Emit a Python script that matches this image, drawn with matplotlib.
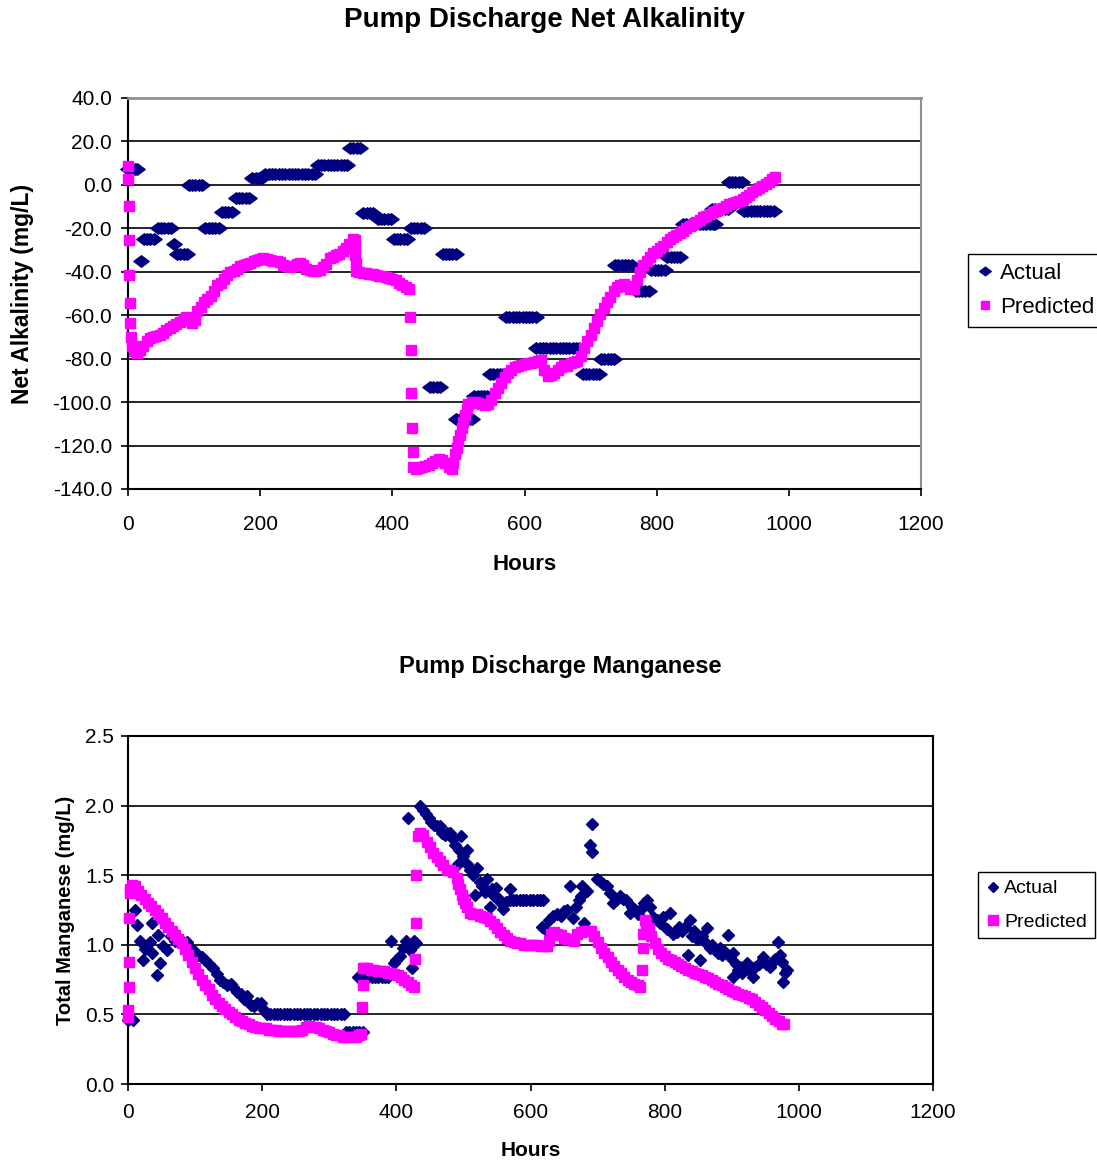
import matplotlib
matplotlib.use("Agg")
import matplotlib.pyplot as plt
from matplotlib.path import Path

plt.rcParams['font.family'] = ['Liberation Sans', 'DejaVu Sans']
plt.rcParams['axes.unicode_minus'] = False

# ---------------- Net Alkalinity: Actual ----------------
alk_act_hours = [
    0, 5, 10, 14,
    19,
    24, 29, 34, 39,
    45, 50, 55, 60, 65,
    69,
    74, 79, 84, 89,
    92, 97, 102, 107, 112,
    117, 122, 127, 132, 137,
    142, 147, 152, 157,
    163, 168, 173, 178, 183,
    188, 193, 198, 203,
    208, 213, 218, 223, 228, 233, 238, 243, 248, 253, 258, 263, 268, 273, 278, 283,
    287, 292, 297, 302, 307, 312, 317, 322, 327, 332,
    336, 341, 346, 351,
    356, 361, 366, 371,
    378, 383, 388, 393, 398,
    402, 407, 412, 417, 422,
    428, 433, 438, 443, 448,
    457, 462, 467, 472,
    476, 481, 486, 491, 496,
    497, 502, 507, 512, 517, 521,
    524, 529, 534, 539, 544,
    548, 553, 558, 563, 568,
    572, 577, 582, 587, 592, 597, 602, 607, 612, 617,
    618, 623, 628, 633, 638, 643, 648, 653, 658, 663, 668, 673, 678, 683,
    688, 693, 698, 703, 708, 713,
    716, 721, 726, 731, 736,
    737, 742, 747, 752, 757, 762,
    768, 773, 778, 783, 788,
    792, 797, 802, 807, 812,
    816, 821, 826, 831, 836,
    840, 845, 850, 855, 860, 865, 870, 875, 880, 885, 889,
    884, 889, 894, 899, 904, 908,
    909, 914, 919, 924, 929,
    932, 937, 942, 947, 952, 957, 962, 967, 972, 977,
]
alk_act_values = [
    7.5, 7.5, 7.5, 7.5,
    -35,
    -25, -25, -25, -25,
    -20, -20, -20, -20, -20,
    -27,
    -32, -32, -32, -32,
    0, 0, 0, 0, 0,
    -20, -20, -20, -20, -20,
    -12.5, -12.5, -12.5, -12.5,
    -6, -6, -6, -6, -6,
    3, 3, 3, 3,
    5, 5, 5, 5, 5, 5, 5, 5, 5, 5, 5, 5, 5, 5, 5, 5,
    9, 9, 9, 9, 9, 9, 9, 9, 9, 9,
    17, 17, 17, 17,
    -13, -13, -13, -13,
    -15.5, -15.5, -15.5, -15.5, -15.5,
    -25, -25, -25, -25, -25,
    -20, -20, -20, -20, -20,
    -93, -93, -93, -93,
    -32, -32, -32, -32, -32,
    -108, -108, -108, -108, -108, -108,
    -97, -97, -97, -97, -97,
    -87, -87, -87, -87, -87,
    -61, -61, -61, -61, -61, -61, -61, -61, -61, -61,
    -75, -75, -75, -75, -75, -75, -75, -75, -75, -75, -75, -75, -75, -75,
    -87, -87, -87, -87, -87, -87,
    -80, -80, -80, -80, -80,
    -37, -37, -37, -37, -37, -37,
    -49, -49, -49, -49, -49,
    -39, -39, -39, -39, -39,
    -33, -33, -33, -33, -33,
    -18, -18, -18, -18, -18, -18, -18, -18, -18, -18, -18,
    -11, -11, -11, -11, -11, -11,
    1.5, 1.5, 1.5, 1.5, 1.5,
    -12, -12, -12, -12, -12, -12, -12, -12, -12, -12,
]

# ---------------- Net Alkalinity: Predicted ----------------
alk_pred_hours = [
    0, 0.5, 1, 1.5, 2, 2.5, 3,
    4, 6, 9, 13, 18, 23, 28, 33, 38, 43, 48, 53, 58, 63, 68, 73, 78, 83, 88, 93, 97,
    101, 105, 110, 115, 120, 125, 130, 135, 140, 145, 150, 155, 160, 165, 170, 175,
    180, 185, 190, 195, 200, 205, 210, 215, 220, 225, 230, 235, 240, 245, 250, 255,
    260, 265, 270, 275, 280, 285, 290, 295, 300, 305, 310, 315, 320, 325, 330, 335,
    340, 343, 343.5, 344, 344.5, 345, 350, 355, 360, 365, 370, 375, 380, 385, 390,
    395, 400, 405, 410, 415, 420, 425,
    427, 428, 429, 430, 431, 432,
    436, 440, 445, 450, 455, 460, 465, 470, 475, 480, 485, 490, 492.5, 495, 497.5, 500,
    502.5, 505, 507.5, 510, 512.5, 515, 520, 525, 530, 535, 540, 545, 550, 555, 560,
    565, 570, 575, 580, 585, 590, 595, 600, 605, 610, 615, 620, 625, 630, 635, 640,
    645, 650, 655, 660, 665, 670, 675, 680, 685, 690, 695, 700, 705, 710, 715, 720,
    725, 730, 735, 740, 745, 750, 755, 760, 765, 770, 775, 780, 785, 790, 795, 800,
    805, 810, 815, 820, 825, 830, 835, 840, 845, 850, 855, 860, 865, 870, 875, 880,
    885, 890, 895, 900, 905, 910, 915, 920, 925, 930, 935, 940, 945, 950, 955, 960,
    965, 970, 975, 979,
]
alk_pred_values = [
    8.5, 2.5, -9.5, -25.5, -41.5, -54.5, -63.5,
    -70, -74, -76.5, -77.5, -76, -74, -72, -70.5, -70, -69.5, -69, -68, -67, -66, -65, -64, -63, -62, -61, -62, -63.5,
    -62, -58, -56, -54, -52.5, -51, -49, -46, -45, -43.5, -41.5, -40, -39.5, -38.5, -37.5, -37,
    -36.5, -36, -35, -34.5, -34, -33.5, -34, -34.5, -35, -35, -35.5, -37, -37.5, -38, -37.5, -36.5,
    -36, -37, -38.5, -39, -39.5, -39.5, -39, -38, -36.5, -33.5, -33, -32.5, -32, -30.5, -29, -27,
    -25, -25.5, -29, -32.5, -36, -39.5, -40, -40.5, -40.5, -41, -41, -41.5, -42, -42, -42.5,
    -43, -43.5, -44, -45, -46, -47, -48,
    -61, -76, -96, -112, -123, -130,
    -131, -130.5, -130, -129.5, -129, -128, -127, -126, -126.5, -128, -130, -131, -128, -124, -121, -118,
    -115, -112, -109, -106, -103, -101, -100, -100, -100.5, -101, -101.5, -101, -99, -96, -93.5,
    -91, -88.5, -86.5, -85, -84, -83.5, -83, -82.5, -82, -82, -81.5, -81, -80.5, -85, -88, -87.5,
    -86.5, -85, -84, -83, -83.5, -82, -81.5, -81, -79, -75, -72, -69, -66, -62.5, -59.5, -56.5,
    -54, -51.5, -49, -47, -46, -45.5, -46.5, -48, -48, -44, -40, -37, -35, -33, -31.5, -30.5,
    -29, -28, -26.5, -25, -24, -23, -22, -21, -20, -19, -18, -17, -16, -15, -14.5, -13.5,
    -12.5, -12, -11, -10.5, -9.5, -9, -8.5, -8, -7.5, -6.5, -5.5, -4.5, -3.5, -2.5, -1.5, -0.5,
    0.5, 1.5, 2.5, 3.5,
]

# ---------------- Manganese: Actual ----------------
mn_act_hours = [
    0, 7, 10, 13, 18, 23, 25, 33, 36, 36, 43, 45, 48, 52, 58, 64,
    70, 75, 82, 88, 95, 100, 105, 110, 115, 120, 127, 132, 137, 142, 148, 153, 157,
    163, 168, 173, 177, 183, 188, 192, 198, 203,
    207, 212, 217, 222, 227, 232, 237, 242, 247, 252, 257, 262, 267, 272, 277, 282,
    287, 292, 297, 302, 307, 312, 317, 322,
    325, 330, 335, 340, 345, 350,
    343, 348, 353, 358, 363, 368, 373, 378, 383, 388,
    392, 397, 400, 405, 410, 414, 418, 420, 424, 427, 430,
    436, 440, 444, 448, 452, 456, 460, 465, 468, 472, 476, 480, 484, 488, 492, 494,
    497, 500, 505, 506, 510, 514, 517, 520, 524, 528, 532, 535, 539, 542, 546, 549,
    553, 556, 559, 564, 569, 569, 574, 579, 584, 589, 594, 599, 604, 609, 614, 618,
    617, 622, 628, 634, 640, 645, 650, 654, 659, 663, 668, 672, 676, 677, 680, 684,
    689, 691, 692, 699, 703, 708, 714, 718, 723, 728, 733, 738, 743, 748, 752, 756,
    760, 765, 769, 773, 778, 783, 788, 793, 798, 803, 808, 812, 818, 822, 826, 830,
    835, 838, 840, 844, 848, 852, 856, 860, 863, 867, 871, 875, 879, 882, 886, 890,
    894, 898, 902, 902, 906, 910, 912, 916, 922, 926, 931, 935, 940, 944, 947, 951,
    957, 961, 965, 969, 972, 975, 977, 980, 982,
]
mn_act_values = [
    0.46, 0.46, 1.25, 1.14, 1.03, 0.89, 0.97, 1.02, 0.94, 1.16, 0.78, 1.07, 0.87, 0.99, 0.96, 1.06,
    1.03, 1.04, 1.02, 1.02, 0.97, 0.95, 0.93, 0.91, 0.89, 0.86, 0.83, 0.79, 0.75, 0.73, 0.71, 0.72, 0.70,
    0.66, 0.65, 0.61, 0.63, 0.57, 0.56, 0.58, 0.58, 0.53,
    0.50, 0.50, 0.50, 0.50, 0.50, 0.50, 0.50, 0.50, 0.50, 0.50, 0.50, 0.50, 0.50, 0.50, 0.50, 0.50,
    0.50, 0.50, 0.50, 0.50, 0.50, 0.50, 0.50, 0.50,
    0.37, 0.37, 0.37, 0.37, 0.37, 0.37,
    0.77, 0.77, 0.77, 0.77, 0.77, 0.77, 0.77, 0.77, 0.77, 0.77,
    1.03, 0.87, 0.89, 0.92, 0.98, 1.03, 1.91, 0.96, 0.83, 1.03, 1.01,
    2.00, 1.97, 1.94, 1.91, 1.88, 1.86, 1.85, 1.85, 1.80, 1.79, 1.80, 1.80, 1.76, 1.72, 1.58, 1.68,
    1.78, 1.64, 1.68, 1.58, 1.54, 1.50, 1.36, 1.55, 1.45, 1.42, 1.38, 1.47, 1.27, 1.40, 1.35, 1.41,
    1.33, 1.30, 1.26, 1.31, 1.40, 1.32, 1.32, 1.32, 1.32, 1.32, 1.32, 1.32, 1.32, 1.32, 1.32, 1.32,
    1.13, 1.11, 1.18, 1.21, 1.22, 1.21, 1.24, 1.25, 1.42, 1.19, 1.27, 1.32, 1.35, 1.42, 1.16, 1.39,
    1.72, 1.87, 1.67, 1.47, 1.46, 1.44, 1.42, 1.37, 1.30, 1.32, 1.35, 1.33, 1.32, 1.23, 1.27, 1.25,
    1.22, 1.26, 1.30, 1.32, 1.27, 1.20, 1.18, 1.16, 1.20, 1.11, 1.23, 1.08, 1.09, 1.13, 1.10, 1.13,
    0.93, 1.18, 1.06, 1.10, 1.04, 0.89, 1.06, 1.02, 1.12, 0.98, 1.00, 0.96, 0.94, 0.98, 0.93, 0.95,
    1.07, 0.91, 0.94, 0.77, 0.86, 0.82, 0.84, 0.80, 0.87, 0.82, 0.77, 0.84, 0.86, 0.88, 0.91, 0.86,
    0.84, 0.88, 0.90, 1.02, 0.93, 0.88, 0.73, 0.80, 0.82,
]

# ---------------- Manganese: Predicted ----------------
mn_pred_hours = [
    0, 0.5, 1, 1.5, 2, 2.5,
    3, 6, 10, 15, 20, 25, 30, 35, 40, 45, 50, 55, 60, 65, 70, 75, 80, 85, 90, 95,
    100, 105, 110, 115, 120, 125, 130, 135, 140, 145, 150, 155, 160, 165, 170, 175,
    180, 185, 190, 195, 200, 205, 210, 215, 220, 225, 230, 235, 240, 245, 250, 255,
    260, 265, 270, 275, 280, 285, 290, 295, 300, 305, 310, 315, 320, 325, 330, 335,
    340, 345, 348,
    349, 350, 351,
    352, 357, 362, 367, 372, 377, 382, 387, 392, 397, 402, 407, 412, 417, 422, 426,
    428, 429, 430,
    432, 435, 440, 445, 450, 455, 460, 465, 470, 475, 480, 485, 490, 492.5, 495, 497.5,
    500, 502.5, 505, 510, 515, 520, 525, 530, 535, 540, 545, 550, 555, 560, 565, 570,
    575, 580, 585, 590, 595, 600, 605, 610, 615, 620, 625, 628, 630, 635, 640, 645,
    650, 655, 660, 665, 670, 675, 680, 685, 690, 695, 700, 705, 710, 715, 720, 725,
    730, 735, 740, 745, 750, 755, 760, 763,
    766, 767, 768,
    770, 772, 776, 780, 785, 790, 795, 800, 805, 810, 815, 820, 825, 830, 835, 840,
    845, 850, 855, 860, 865, 870, 875, 880, 885, 890, 895, 900, 905, 910, 915, 920,
    925, 930, 935, 940, 945, 950, 955, 960, 965, 970, 975, 978,
]
mn_pred_values = [
    0.48, 0.53, 0.70, 0.88, 1.19, 1.37,
    1.40, 1.43, 1.42, 1.39, 1.36, 1.33, 1.30, 1.28, 1.25, 1.22, 1.19, 1.16, 1.13, 1.10, 1.07, 1.04, 1.01, 0.97, 0.93, 0.88,
    0.83, 0.79, 0.75, 0.71, 0.68, 0.64, 0.61, 0.58, 0.56, 0.54, 0.52, 0.50, 0.48, 0.46, 0.45, 0.44,
    0.43, 0.42, 0.41, 0.40, 0.40, 0.40, 0.39, 0.39, 0.39, 0.38, 0.38, 0.38, 0.38, 0.38, 0.38, 0.38,
    0.39, 0.41, 0.42, 0.41, 0.41, 0.40, 0.39, 0.38, 0.37, 0.36, 0.35, 0.35, 0.34, 0.34, 0.34, 0.34,
    0.34, 0.35, 0.36,
    0.55, 0.71, 0.83,
    0.83, 0.83, 0.82, 0.82, 0.81, 0.81, 0.81, 0.80, 0.80, 0.79, 0.78, 0.77, 0.75, 0.73, 0.71, 0.70,
    0.90, 1.16, 1.50,
    1.78, 1.80, 1.79, 1.74, 1.70, 1.66, 1.63, 1.60, 1.57, 1.54, 1.54, 1.52, 1.48, 1.44, 1.40, 1.36,
    1.33, 1.30, 1.27, 1.23, 1.22, 1.22, 1.21, 1.20, 1.19, 1.17, 1.15, 1.12, 1.09, 1.07, 1.05, 1.03,
    1.02, 1.01, 1.01, 1.00, 1.00, 1.00, 1.00, 1.00, 0.99, 0.99, 0.99, 1.03, 1.08, 1.09, 1.08, 1.07,
    1.05, 1.04, 1.04, 1.03, 1.08, 1.09, 1.10, 1.10, 1.10, 1.06, 1.02, 0.98, 0.94, 0.91, 0.88, 0.85,
    0.82, 0.80, 0.77, 0.75, 0.73, 0.72, 0.71, 0.70,
    0.82, 0.98, 1.08,
    1.18, 1.16, 1.12, 1.06, 1.01, 0.97, 0.94, 0.92, 0.90, 0.89, 0.88, 0.86, 0.85, 0.83, 0.82, 0.81,
    0.80, 0.79, 0.78, 0.77, 0.76, 0.75, 0.73, 0.72, 0.71, 0.70, 0.68, 0.67, 0.66, 0.65, 0.64, 0.63,
    0.62, 0.61, 0.59, 0.57, 0.55, 0.53, 0.51, 0.49, 0.47, 0.45, 0.43, 0.43,
]

alk_yticks = [40, 20, 0, -20, -40, -60, -80, -100, -120, -140]
mn_yticks = [0.0, 0.5, 1.0, 1.5, 2.0, 2.5]
xticks = [0, 200, 400, 600, 800, 1000, 1200]

NAVY = '#000080'
MAGENTA = '#FF00FF'

wide_diamond = Path([(-1, 0), (0, 0.75), (1, 0), (0, -0.75), (-1, 0)],
                    [Path.MOVETO, Path.LINETO, Path.LINETO, Path.LINETO, Path.CLOSEPOLY])

W, H = 1097, 1160
fig = plt.figure(figsize=(W / 100, H / 100), dpi=100)

def frac(l, t, r, b):
    return [l / W, 1 - b / H, (r - l) / W, (b - t) / H]

# ---------------- top chart ----------------
ax1 = fig.add_axes(frac(128, 98, 921, 489))
a1, = ax1.plot(alk_act_hours, alk_act_values, linestyle='none', marker=wide_diamond,
               markersize=11, color=NAVY, mec=NAVY, clip_on=False, label='Actual', zorder=3)
p1, = ax1.plot(alk_pred_hours, alk_pred_values, linestyle='none', marker='s',
               markersize=7, color=MAGENTA, mec=MAGENTA, clip_on=False, label='Predicted', zorder=4)
ax1.set_xlim(0, 1200)
ax1.set_ylim(-140, 40)
ax1.set_xticks(xticks)
ax1.set_yticks(alk_yticks)
ax1.set_yticklabels([f'{v:.1f}' for v in alk_yticks])
for y in alk_yticks[1:-1]:
    ax1.axhline(y, color='black', lw=1.2, zorder=1)
ax1.spines['top'].set_color('#909090')
ax1.spines['right'].set_color('#909090')
ax1.spines['top'].set_linewidth(2)
ax1.spines['right'].set_linewidth(1.5)
ax1.spines['left'].set_linewidth(1.5)
ax1.spines['bottom'].set_linewidth(1.5)
ax1.tick_params(axis='both', labelsize=15, length=5, width=1.2, direction='out')
ax1.tick_params(axis='x', pad=14)
ax1.tick_params(axis='y', pad=6.5)
ax1.set_xlabel('Hours', fontsize=16, fontweight='bold', labelpad=14)
ax1.set_ylabel('Net Alkalinity (mg/L)', fontsize=16.5, fontweight='bold', labelpad=13)
fig.text(544 / W, 1 - 20 / H, 'Pump Discharge Net Alkalinity', ha='center', va='center',
         fontsize=20, fontweight='bold')
fig.legend(handles=[a1, p1], loc='upper left', bbox_to_anchor=(968 / W, 1 - 254 / H),
           fontsize=16, frameon=True, fancybox=False, edgecolor='black', framealpha=1,
           handlelength=0.7, handletextpad=0.35, borderpad=0.4, labelspacing=0.6,
           borderaxespad=0, markerscale=0.75)

# ---------------- bottom chart ----------------
ax2 = fig.add_axes(frac(128, 736, 933, 1084))
a2, = ax2.plot(mn_act_hours, mn_act_values, linestyle='none', marker='D',
               markersize=5.8, color=NAVY, mec=NAVY, clip_on=False, label='Actual', zorder=3)
p2, = ax2.plot(mn_pred_hours, mn_pred_values, linestyle='none', marker='s',
               markersize=7.3, color=MAGENTA, mec=MAGENTA, clip_on=False, label='Predicted', zorder=4)
ax2.set_xlim(0, 1200)
ax2.set_ylim(0, 2.5)
ax2.set_xticks(xticks)
ax2.set_yticks(mn_yticks)
ax2.set_yticklabels([f'{v:.1f}' for v in mn_yticks])
for y in mn_yticks[1:-1]:
    ax2.axhline(y, color='black', lw=1.2, zorder=1)
for s in ax2.spines.values():
    s.set_linewidth(1.5)
    s.set_color('black')
ax2.tick_params(axis='both', labelsize=15, length=5, width=1.2, direction='out')
ax2.tick_params(axis='x', pad=9)
ax2.tick_params(axis='y', pad=5)
ax2.set_xlabel('Hours', fontsize=15, fontweight='bold', labelpad=13)
ax2.set_ylabel('Total Manganese (mg/L)', fontsize=14.5, fontweight='bold', labelpad=7)
fig.text(560 / W, 1 - 667 / H, 'Pump Discharge Manganese', ha='center', va='center',
         fontsize=17, fontweight='bold')
fig.legend(handles=[a2, p2], loc='upper left', bbox_to_anchor=(978 / W, 1 - 872 / H),
           fontsize=14, frameon=True, fancybox=False, edgecolor='black', framealpha=1,
           handlelength=0.7, handletextpad=0.25, borderpad=0.4, labelspacing=0.8,
           borderaxespad=0, markerscale=0.9)

fig.savefig('out.png', dpi=100)
